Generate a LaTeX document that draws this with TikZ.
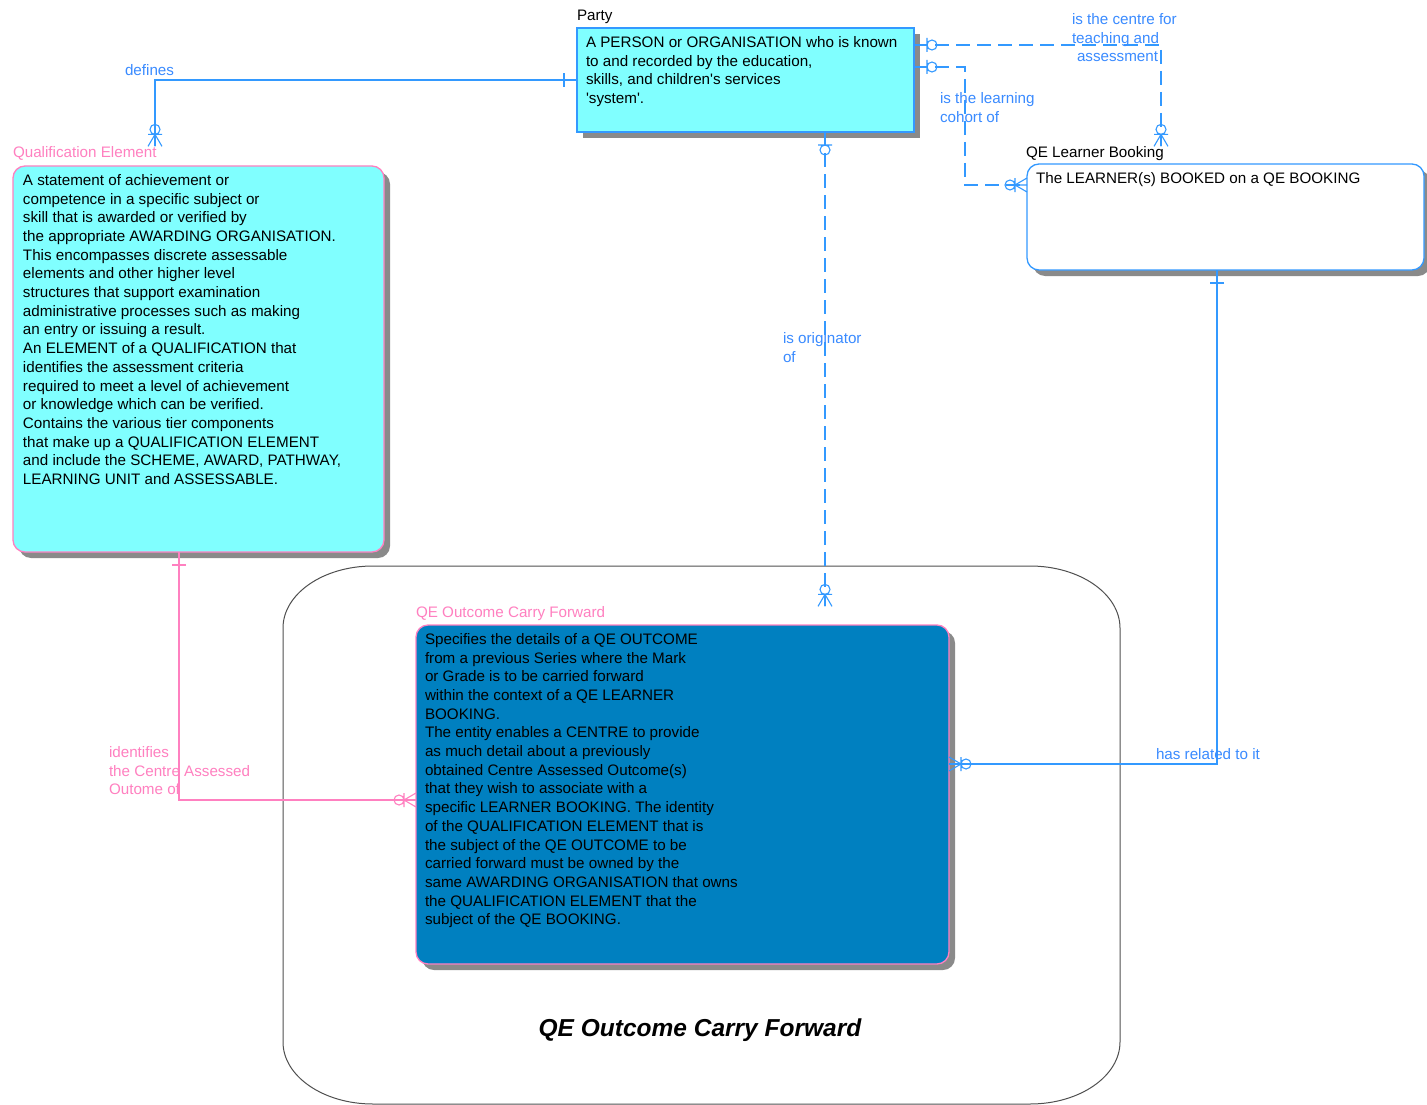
\documentclass[tikz,border=0pt]{standalone}
\usepackage{fontspec}
\setmainfont{Liberation Sans}
\usetikzlibrary{shadows}
\definecolor{cyanfill}{HTML}{80FFFF}
\definecolor{bluefill}{HTML}{0080C0}
\definecolor{lineblue}{HTML}{3399FF}
\definecolor{txtblue}{HTML}{3A8BFF}
\definecolor{pinkc}{HTML}{FF80C0}
\definecolor{shadowgray}{HTML}{8A8A8A}
\definecolor{contline}{HTML}{505050}
\tikzset{
  base/.style={font=\fontsize{15.2}{18.7}\selectfont, inner sep=0pt, outer sep=0pt},
  entbox/.style={draw, line width=1.3pt, anchor=north west, inner sep=0pt, outer sep=0pt,
    drop shadow={shadow xshift=6pt, shadow yshift=-6pt, fill=shadowgray, opacity=1}},
  bodytext/.style={base, anchor=north west, align=left},
  mlabel/.style={base, anchor=north west, align=left},
  slabel/.style={base, anchor=base west},
  bluelink/.style={color=lineblue, line width=1.1pt},
  pinklink/.style={color=pinkc, line width=1.1pt},
  dashlink/.style={bluelink, dash pattern=on 14pt off 7pt},
  one/.pic={\draw (0,0)--(13,0) (13,-7)--(13,7);},
  zeroone/.pic={\draw (0,0)--(13,0) (13,-7)--(13,7) (18,0) circle[radius=5];},
  zeromany/.pic={\draw (0,-7)--(12,0)--(0,7) (0,0)--(12,0) (12,-7)--(12,7) (17,0) circle[radius=5];},
}
\begin{document}
\begin{tikzpicture}[x=1pt,y=-1pt]
\fill[white] (0,0) rectangle (1427,1105);
\useasboundingbox (0,0) rectangle (1427,1105);

% container
\draw[contline, line width=1pt] (283,628) -- (283,1042) .. controls (283,1076) and (323,1104) .. (373,1104)
  -- (1030,1104) .. controls (1080,1104) and (1120,1076) .. (1120,1042)
  -- (1120,628) .. controls (1120,594) and (1080,566) .. (1030,566)
  -- (373,566) .. controls (323,566) and (283,594) .. (283,628) -- cycle;
\node[font=\fontsize{24.5}{28}\selectfont\bfseries\itshape, anchor=base, inner sep=0pt] (title) at (700,1036) {QE Outcome Carry Forward};

% entities
\node[entbox, draw=lineblue, fill=cyanfill, minimum width=337pt, minimum height=104pt] (party) at (577,28) {};
\node[slabel] (partyl) at (577,20.4) {Party};
\node[bodytext] (partyt) at (586,34.3) {\strut A PERSON or ORGANISATION who is known\\to and recorded by the education,\\skills, and children\textquotesingle s services\\\textquotesingle system\textquotesingle .};

\node[entbox, draw=pinkc, fill=cyanfill, rounded corners=12pt, minimum width=371pt, minimum height=386pt] (qe) at (13,166) {};
\node[slabel, text=pinkc] (qel) at (13,157.4) {Qualification Element};
\node[bodytext] (qet) at (23,172.3) {\strut A statement of achievement or\\competence in a specific subject or\\skill that is awarded or verified by\\the appropriate AWARDING ORGANISATION.\\This encompasses discrete assessable\\elements and other higher level\\structures that support examination\\administrative processes such as making\\an entry or issuing a result.\\An ELEMENT of a QUALIFICATION that\\identifies the assessment criteria\\required to meet a level of achievement\\or knowledge which can be verified.\\Contains the various tier components\\that make up a QUALIFICATION ELEMENT\\and include the SCHEME, AWARD, PATHWAY,\\LEARNING UNIT and ASSESSABLE.};

\node[entbox, draw=lineblue, fill=white, rounded corners=12pt, minimum width=397pt, minimum height=106pt] (qelb) at (1027,164) {};
\node[slabel] (qelbl) at (1026,157.4) {QE Learner Booking};
\node[bodytext] (qelbt) at (1036,170.3) {\strut The LEARNER(s) BOOKED on a QE BOOKING};

\node[entbox, draw=pinkc, fill=bluefill, rounded corners=12pt, minimum width=533pt, minimum height=339pt] (ocf) at (416,625) {};
\node[slabel, text=pinkc] (ocfl) at (416,617.4) {QE Outcome Carry Forward};
\node[bodytext] (ocft) at (425,631.3) {\strut Specifies the details of a QE OUTCOME\\from a previous Series where the Mark\\or Grade is to be carried forward\\within the context of a QE LEARNER\\BOOKING.\\The entity enables a CENTRE to provide\\as much detail about a previously\\obtained Centre Assessed Outcome(s)\\that they wish to associate with a\\specific LEARNER BOOKING. The identity\\of the QUALIFICATION ELEMENT that is\\the subject of the QE OUTCOME to be\\carried forward must be owned by the\\same AWARDING ORGANISATION that owns\\the QUALIFICATION ELEMENT that the\\subject of the QE BOOKING.};

% connector ends
\coordinate (defE) at (qel.north -| 155,0);
\coordinate (cenS) at (party.east |- 0,45);
\coordinate (cenE) at (qelbl.north -| 1161,0);
\coordinate (cohS) at (party.east |- 0,67);
\coordinate (cohE) at (qelb.west |- 0,185);
\coordinate (oriS) at (party.south -| 825,0);
\coordinate (oriE) at (ocfl.north -| 825,0);
\coordinate (hasS) at (qelb.south -| 1217,0);
\coordinate (hasE) at (ocf.east |- 0,764);
\coordinate (ideS) at (qe.south -| 179,0);
\coordinate (ideE) at (ocf.west |- 0,800);

% defines
\draw[bluelink] (party.west) -| (defE);
\pic[bluelink, rotate=180] at (party.west) {one};
\pic[bluelink, rotate=90] at (defE) {zeromany};
\node[slabel, text=txtblue] (ldef) at (125,75.4) {defines};

% centre for teaching
\draw[dashlink] (cenS) -| (cenE);
\pic[bluelink] at (cenS) {zeroone};
\pic[bluelink, rotate=90] at (cenE) {zeromany};
\node[mlabel, text=txtblue] (lcen) at (1072,11.3) {\strut is the centre for\\teaching and\\\hspace*{5pt}assessment};

% learning cohort
\draw[dashlink] (cohS) -- (965,67) |- (cohE);
\pic[bluelink] at (cohS) {zeroone};
\pic[bluelink, rotate=180] at (cohE) {zeromany};
\node[mlabel, text=txtblue] (lcoh) at (940,90.3) {\strut is the learning\\cohort of};

% originator
\draw[dashlink] (oriS) -- (oriE);
\pic[bluelink, rotate=-90] at (oriS) {zeroone};
\pic[bluelink, rotate=90] at (oriE) {zeromany};
\node[mlabel, text=txtblue] (lori) at (783,330.3) {\strut is originator\\of};

% has related
\draw[bluelink] (hasS) |- (hasE);
\pic[bluelink, rotate=-90] at (hasS) {one};
\pic[bluelink] at (hasE) {zeromany};
\node[slabel, text=txtblue] (lhas) at (1156,759.4) {has related to it};

% identifies
\draw[pinklink] (ideS) |- (ideE);
\pic[pinklink, rotate=-90] at (ideS) {one};
\pic[pinklink, rotate=180] at (ideE) {zeromany};
\node[mlabel, text=pinkc] (lide) at (109,744.3) {\strut identifies\\the Centre Assessed\\Outome of};
\end{tikzpicture}
\end{document}
